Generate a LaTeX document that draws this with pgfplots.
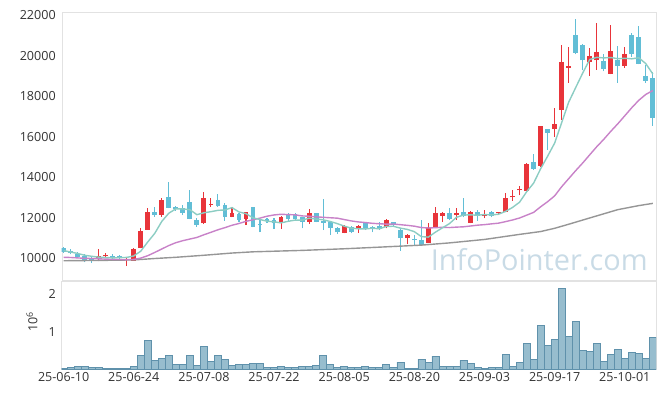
\documentclass[border=0pt]{standalone}
\usepackage{fontspec}
\setmainfont{Open Sans}
\usepackage{pgfplots}
\usepackage{pgfplotstable}
\pgfplotsset{compat=1.18}
\definecolor{cred}{HTML}{E8343A}
\definecolor{cblue}{HTML}{62BED6}
\definecolor{mafive}{HTML}{8CCDC3}
\definecolor{matwenty}{HTML}{C882C8}
\definecolor{malong}{HTML}{969696}
\definecolor{volfill}{HTML}{97BDCE}
\definecolor{voledge}{HTML}{5F91AB}
\definecolor{wm}{HTML}{C9DBE6}
\definecolor{frame}{HTML}{E2E2E2}
\definecolor{lbl}{HTML}{333333}

\pgfplotstableread{
i O H L C
5 9982 10458 9850 10113
6 10097 10277 9998 10163
9 9900 10080 9620 9950
10 9880 10520 9870 10474
11 10507 11476 10490 11345
12 11410 12461 11400 12264
14 12149 12970 12050 12888
20 11722 13282 11690 12954
21 12642 12954 12543 12691
24 12051 12510 12018 12231
26 11936 12297 11640 12264
31 11722 12100 11444 12018
35 11805 12412 11690 12215
40 11263 11640 11230 11591
42 11460 11624 11263 11591
46 11558 11936 11476 11887
49 11000 11181 10688 11148
52 10770 11722 10737 11525
53 11525 12510 11493 12215
54 12084 12297 11804 12215
56 12133 12461 11887 12215
58 11755 12330 11722 12280
60 12084 12379 11969 12133
62 12231 12297 12116 12280
63 12297 13233 12264 12970
64 13003 13364 12839 13085
65 13348 13561 13102 13414
66 13315 14678 13282 14645
68 14563 16550 14514 16517
70 16369 17420 15991 16648
71 17305 20540 16845 19670
72 19390 20425 18651 19472
75 19686 20392 18996 19998
76 19768 21623 19308 20195
78 19111 21492 19078 20211
80 19489 20425 19390 20097
}\redtab

\pgfplotstableread{
i O H L C
0 10507 10560 10280 10326
1 10359 10440 10195 10261
2 10228 10330 10060 10080
3 10113 10195 9800 9932
4 9998 10060 9768 9900
7 10113 10195 9900 9998
8 10113 10160 9950 9998
13 12280 12510 12050 12133
15 13019 13775 12460 12494
16 12527 12560 12345 12412
17 12461 12630 12133 12248
18 12773 13365 11920 11952
19 11887 11969 11560 11657
22 12872 13167 12543 12576
23 12626 12740 11854 12051
25 12182 12215 11805 11887
27 12510 12543 11525 11558
28 11706 11887 11280 11624
29 11920 11969 11755 11821
30 11887 11969 11444 11722
32 12182 12215 11854 11936
33 12182 12215 11854 11920
34 12018 12051 11476 11805
36 12215 12250 11770 11805
37 11854 12905 11394 11755
38 11805 11854 11148 11509
39 11476 11558 11197 11279
41 11558 11591 11230 11312
43 11755 11805 11394 11460
44 11558 11591 11280 11460
45 11591 11805 11394 11460
47 11772 11805 11558 11640
48 11394 11427 10376 11000
50 10950 11148 10655 10900
51 10901 11887 10606 10655
55 12215 12461 11887 11936
57 12280 12954 12018 12084
59 12264 12379 11854 12100
61 12280 12330 12018 12084
67 14727 15138 14349 14415
69 16369 16402 15335 16188
73 21000 21821 20064 20129
74 20540 20589 19275 19768
77 19719 20064 19226 19341
79 19768 20458 18651 19489
81 21000 21131 19932 20064
82 20901 21443 19571 19604
83 18980 19522 18668 18750
84 18914 19193 16533 16927
}\bluetab

\pgfplotstableread{
i m5 m20
0 10380 10050
1 10310 10040
2 10240 10020
3 10150 10000
4 10100 9990
5 10057 9975
6 10038 9960
7 10021 9950
8 10034 9940
9 10044 9935
10 10117 9945
11 10353 10010
12 10806 10130
13 11233 10290
14 11821 10460
15 12225 10630
16 12438 10770
17 12435 10870
18 12399 10950
19 12153 11029
20 12245 11161
21 12300 11282
22 12366 11407
23 12386 11513
24 12501 11630
25 12287 11718
26 12202 11823
27 11998 11901
28 11913 11983
29 11831 12076
30 11798 12139
31 11749 12172
32 11824 12156
33 11883 12145
34 11880 12091
35 11979 12077
36 11936 12047
37 11900 12022
38 11818 12000
39 11713 11981
40 11588 11913
41 11489 11844
42 11456 11795
43 11447 11765
44 11483 11727
45 11457 11705
46 11572 11686
47 11581 11691
48 11489 11659
49 11427 11626
50 11315 11585
51 11069 11516
52 11046 11496
53 11289 11511
54 11502 11531
55 11709 11517
56 12021 11538
57 12133 11554
58 12146 11593
59 12123 11634
60 12162 11661
61 12136 11699
62 12175 11734
63 12313 11809
64 12510 11891
65 12767 11988
66 13279 12126
67 13706 12265
68 14415 12541
69 15036 12793
70 15683 13080
71 16688 13531
72 17699 13928
73 18421 14324
74 19137 14702
75 19807 15105
76 19912 15504
77 19886 15867
78 19903 16263
79 19847 16633
80 19867 17031
81 19840 17430
82 19893 17796
83 19601 18085
84 19088 18277
}\matab

\pgfplotstableread{
i m
0 9880
5 9895
10 9920
13 9990
16 10050
20 10150
24 10260
27 10320
30 10350
34 10390
40 10470
45 10550
51 10650
55 10760
60 10930
65 11180
68 11320
70 11480
72 11680
75 11990
79 12400
82 12600
84 12710
}\malongtab

\pgfplotstableread{
i v
0 0.03
1 0.05
2 0.08
3 0.08
4 0.05
5 0.05
6 0.02
7 0.02
8 0.02
9 0.02
10 0.08
11 0.37
12 0.77
13 0.24
14 0.29
15 0.37
16 0.13
17 0.13
18 0.37
19 0.11
20 0.61
21 0.21
22 0.37
23 0.27
24 0.11
25 0.13
26 0.13
27 0.15
28 0.15
29 0.05
30 0.05
31 0.08
32 0.05
33 0.05
34 0.08
35 0.08
36 0.10
37 0.37
38 0.13
39 0.05
40 0.08
41 0.05
42 0.05
43 0.08
44 0.05
45 0.05
46 0.13
47 0.05
48 0.19
49 0.03
50 0.03
51 0.27
52 0.19
53 0.35
54 0.08
55 0.08
56 0.08
57 0.24
58 0.16
59 0.05
60 0.03
61 0.05
62 0.05
63 0.40
64 0.08
65 0.19
66 0.69
67 0.27
68 1.17
69 0.64
70 0.80
71 2.16
72 0.88
73 1.28
74 0.51
75 0.48
76 0.69
77 0.21
78 0.40
79 0.53
80 0.29
81 0.45
82 0.43
83 0.29
84 0.85
}\voltab

\pgfplotsset{
  common/.style={
    scale only axis,
    width=594.3bp,
    xmin=-0.27, xmax=84.45,
    axis line style={draw=frame},
    major tick length=0pt,
    tick style={draw=none},
    tick label style={font=\fontsize{12.6}{14}\selectfont, text=lbl},
    yticklabel style={xshift=-2.5bp},
    /pgf/number format/assume math mode=true,
    /pgf/number format/set thousands separator={},
    scaled y ticks=false,
    xtick={0,10,...,80},
    clip=true,
  },
  wick/.style={draw=none, mark=none,
    error bars/.cd, y dir=plus, y explicit, error mark=none,
    error bar style={line width=1.1bp, draw=#1, solid}},
  body/.style={draw=none, mark=none,
    error bars/.cd, y dir=plus, y explicit, error mark=none,
    error bar style={line width=4.8bp, draw=#1, solid}},
}

\begin{document}
\begin{tikzpicture}
\path[use as bounding box] (-61.7bp,-28.7bp) rectangle (603.3bp,369.3bp);

% volume panel
\begin{axis}[common,
  at={(0bp,0bp)}, anchor=south west,
  height=88.3bp,
  ymin=0, ymax=2.355,
  ytick={1,2},
  xticklabels={25-06-10,25-06-24,25-07-08,25-07-22,25-08-05,25-08-20,25-09-03,25-09-17,25-10-01},
]
\addplot[ybar, bar width=1, fill=volfill, draw=voledge, line width=0.6bp] table[x=i, y=v] \voltab;
\end{axis}

% price panel
\begin{axis}[common,
  at={(0bp,89.3bp)}, anchor=south west,
  height=268bp,
  ymin=8930, ymax=22150,
  ytick={10000,12000,...,22000},
  xticklabels={},
]
\node[anchor=base, text=wm, font=\fontsize{29}{30}\selectfont] at (axis cs:67.8,9423) {InfoPointer.com};
\addplot[wick=cred] table[x=i, y=L, y error plus expr=\thisrow{H}-\thisrow{L}] \redtab;
\addplot[body=cred] table[x=i, y=O, y error plus expr=\thisrow{C}-\thisrow{O}] \redtab;
\addplot[wick=cblue] table[x=i, y=L, y error plus expr=\thisrow{H}-\thisrow{L}] \bluetab;
\addplot[body=cblue] table[x=i, y=C, y error plus expr=\thisrow{O}-\thisrow{C}] \bluetab;
\addplot[malong, line width=1.4bp] table[x=i, y=m] \malongtab;
\addplot[matwenty, line width=1.4bp] table[x=i, y=m20] \matab;
\addplot[mafive, line width=1.4bp] table[x=i, y=m5] \matab;
\end{axis}

\node[rotate=90, font=\fontsize{12.6}{14}\selectfont, text=lbl] at (-29.7bp,47.8bp) {10\textsuperscript{6}};
\end{tikzpicture}
\end{document}
